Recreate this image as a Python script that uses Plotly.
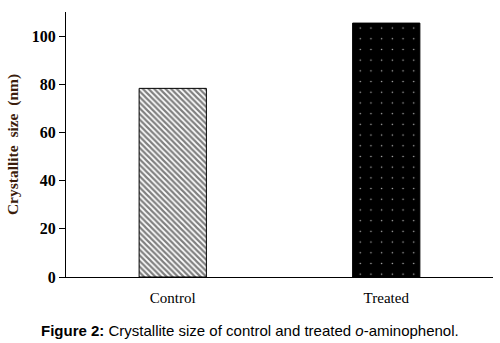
import plotly.graph_objects as go

categories = ["Control", "Treated"]
values = [78.3, 105.4]
y_ticks = [0, 20, 40, 60, 80, 100]

fig = go.Figure()
fig.add_trace(go.Bar(
    x=[categories[0]], y=[values[0]], width=0.315,
    marker=dict(color="white", line=dict(color="black", width=1),
                pattern=dict(shape="\\", fgcolor="black", bgcolor="white", size=4, solidity=0.55)),
))
fig.add_trace(go.Bar(
    x=[categories[1]], y=[values[1]], width=0.315,
    marker=dict(color="black", line=dict(color="black", width=1),
                pattern=dict(shape=".", fgcolor="#bbbbbb", bgcolor="black", size=10.7, solidity=0.015, fillmode="replace")),
))

fig.update_layout(
    width=500, height=343,
    margin=dict(l=66, r=7, t=12, b=66),
    paper_bgcolor="white", plot_bgcolor="white",
    showlegend=False,
    xaxis=dict(range=[-0.5, 1.5], showline=True, linecolor="black", linewidth=1.2,
               ticks="", tickfont=dict(family="Liberation Serif", size=15, color="black"),
               ticklabelstandoff=7, showgrid=False, zeroline=False),
    yaxis=dict(range=[0, 110], tickvals=y_ticks, showline=True, linecolor="black", linewidth=1.2,
               ticks="outside", ticklen=6, tickcolor="black", tickwidth=1,
               tickfont=dict(family="Liberation Serif", size=16, color="black", weight="bold"),
               showgrid=False, zeroline=False,
               title=dict(text="<b>Crystallite  size  (nm)</b>", standoff=9,
                          font=dict(family="Liberation Serif", size=15.5, color="#3b1d0c"))),
    annotations=[dict(
        text="<b>Figure 2:</b> Crystallite size of control and treated <i>o</i>-aminophenol.",
        xref="paper", yref="paper", x=(250 - 66) / 427, y=-(330 - 277) / 265,
        xanchor="center", yanchor="middle", showarrow=False,
        font=dict(family="Liberation Sans", size=15, color="black"))],
)

fig.write_html("out.html")
